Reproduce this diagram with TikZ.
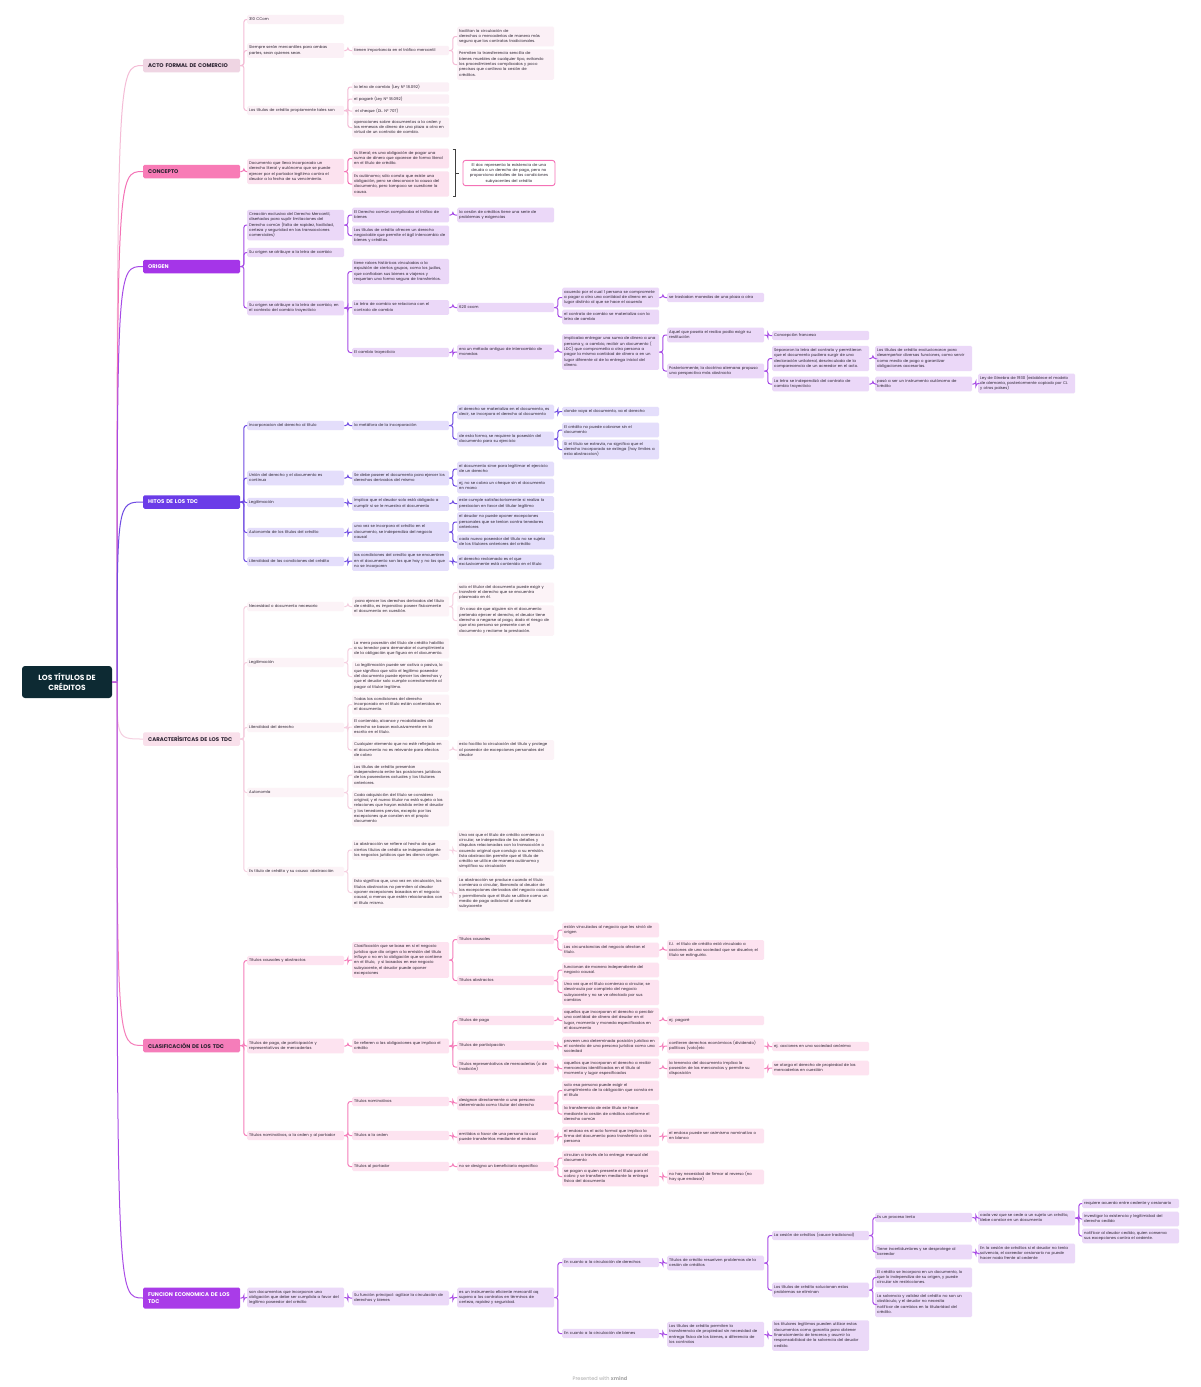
\documentclass[tikz,border=0pt]{standalone}
\usepackage{fontspec}
\setmainfont{Poppins}
\definecolor{rootc}{HTML}{0D2A33}
\definecolor{txt}{HTML}{2A2230}
\definecolor{aH}{HTML}{EFD5E3}\definecolor{aL}{HTML}{F4BCD6}\definecolor{aF}{HTML}{FBF0F6}
\definecolor{cH}{HTML}{F87BB6}\definecolor{cL}{HTML}{F472B6}\definecolor{cF}{HTML}{FCE2EF}
\definecolor{oH}{HTML}{A535E8}\definecolor{oL}{HTML}{A64BE6}\definecolor{oF}{HTML}{EBD8F8}
\definecolor{hH}{HTML}{6B3CE8}\definecolor{hL}{HTML}{6F4BE2}\definecolor{hF}{HTML}{E4DEFB}
\definecolor{kH}{HTML}{F9E0EB}\definecolor{kL}{HTML}{F5CFE0}\definecolor{kF}{HTML}{FCF3F7}
\definecolor{lH}{HTML}{F57DBA}\definecolor{lL}{HTML}{F57DBA}\definecolor{lF}{HTML}{FDE3F0}
\definecolor{fH}{HTML}{A93CE8}\definecolor{fL}{HTML}{A94CE6}\definecolor{fF}{HTML}{EBD9F8}
\colorlet{bf}{aF}\colorlet{bc}{aL}
\newcommand\fs{\fontsize{3.85}{5.3}\selectfont}
\newcommand\hfs{\fontsize{5.4}{6.6}\selectfont\bfseries}
\tikzset{
 box/.style={anchor=west, fill=bf, rounded corners=1.5pt, text width=93pt, inner xsep=2pt, inner ysep=2pt, align=left, font=\fs, text=txt, execute at begin node=\strut, execute at end node=\strut},
 hdr/.style={anchor=west, rounded corners=1.5pt, minimum width=97pt, text width=87pt, inner xsep=5pt, inner ysep=2.5pt, minimum height=13.5pt, align=left, font=\hfs},
 conn/.style={draw=bc, line width=1pt, rounded corners=2.5pt},
 rootl/.style={line width=1pt},
}
\newcommand\bx[4]{\node[box] (#1) at (#2,#3) {#4};}
\newcommand\cn[2]{\draw[conn] (#1.east) -- ++(3.5,0) |- (#2.west);}
\begin{document}
\begin{tikzpicture}[x=1pt,y=-1pt]
\useasboundingbox (0,0) rectangle (1200,1387);
\fill[white] (0,0) rectangle (1200,1387);
% root
\node[fill=rootc, rounded corners=3pt, text=white, minimum width=90pt, minimum height=32pt, align=center, font=\fontsize{7.5}{9.8}\selectfont\bfseries] (root) at (67,682) {LOS TÍTULOS DE\\CRÉDITOS};
\coordinate (rj) at (117,682);
% headers
\node[hdr, fill=aH, text=txt] (acto) at (143,65.5) {ACTO FORMAL DE COMERCIO};
\node[hdr, fill=cH, text=txt] (conc) at (143,171.5) {CONCEPTO};
\node[hdr, fill=oH, text=white] (orig) at (143,266.5) {ORIGEN};
\node[hdr, fill=hH, text=white] (hit) at (143,502) {HITOS DE LOS TDC};
\node[hdr, fill=kH, text=txt] (car) at (143,739) {CARACTERÍSITCAS DE LOS TDC};
\node[hdr, fill=lH, text=txt] (cla) at (143,1045.5) {CLASIFICACIÓN DE LOS TDC};
\node[hdr, fill=fH, text=white, minimum height=21pt] (fun) at (143,1298) {FUNCION ECONOMICA DE LOS\\TDC};
\foreach \h/\c in {acto/aL,conc/cL,orig/oL,hit/hL,car/kL,cla/lL,fun/fL}{
 \draw[rootl, draw=\c] (root.east) -- (rj) .. controls (rj |- \h.west) and (rj |- \h.west) .. (\h.west);
}
% ===== ACTO
\colorlet{bf}{aF}\colorlet{bc}{aL}
\bx{a1}{247}{19.5}{310 CCom}
\bx{a2}{247}{50.5}{Siempre serán mercantiles para ambas\\partes, sean quienes sean.}
\bx{a3}{247}{110.5}{Los títulos de crédito propiamente tales son}
\bx{a2a}{352}{50.5}{tienen importancia en el tráfico mercantil}
\bx{a3a}{352}{87}{la letra de cambio (Ley Nº 18.092)}
\bx{a3b}{352}{99}{el pagaré (Ley Nº 18.092)}
\bx{a3c}{352}{111}{\ el cheque (DL. Nº 707)}
\bx{a3d}{352}{127.5}{operaciones sobre documentos a la orden y\\las remesas de dinero de una plaza a otra en\\virtud de un contrato de cambio.}
\bx{a2a1}{457}{36.5}{facilitan la circulación de\\derechos o mercaderías de manera más\\segura que los contratos tradicionales.}
\bx{a2a2}{457}{64.5}{Permiten la transferencia sencilla de\\bienes muebles de cualquier tipo, evitando\\los procedimientos complicados y poco\\precisos que conlleva la cesión de\\créditos.}
\cn{acto}{a1}\cn{acto}{a2}\cn{acto}{a3}
\cn{a2}{a2a}\cn{a2a}{a2a1}\cn{a2a}{a2a2}
\cn{a3}{a3a}\cn{a3}{a3b}\cn{a3}{a3c}\cn{a3}{a3d}
% ===== CONCEPTO
\colorlet{bf}{cF}\colorlet{bc}{cL}
\bx{c1}{247}{171.5}{Documento que lleva incorporado un\\derecho literal y autónomo que se puede\\ejercer por el portador legítimo contra el\\deudor a la fecha de su vencimiento.}
\bx{c1a}{352}{158.5}{Es literal; es una obligación de pagar una\\suma de dinero que aparece de forma literal\\en el título de crédito.}
\bx{c1b}{352}{184}{Es autónomo; sólo consta que existe una\\obligación, pero se desconoce la causa del\\documento, pero tampoco se cuestione la\\causa.}
\cn{conc}{c1}\cn{c1}{c1a}\cn{c1}{c1b}
\node[box, fill=white, draw=cL, line width=0.9pt, rounded corners=2.5pt, text width=88pt, align=center] (cs) at (462.5,173) {El doc representa la existencia de una\\deuda o un derecho de pago, pero no\\proporciona detalles de las condiciones\\subyacentes del crédito};
\coordinate (bt) at (452.5,149.5);\coordinate (bb) at (452.5,196.5);
\draw[line width=0.9pt, draw=black!75] (bt) -- ++(3,0) |- (bb);
\draw[line width=0.9pt, draw=black!75] (455.5,173) -- (459,173);
% ===== ORIGEN
\colorlet{bf}{oF}\colorlet{bc}{oL}
\bx{o1}{247}{225}{Creación exclusiva del Derecho Mercantil,\\diseñados para suplir limitaciones del\\Derecho común (falta de rapidez, facilidad,\\certeza y seguridad en las transacciones\\comerciales)}
\bx{o2}{247}{252.5}{Su origen se atribuye a la letra de cambio}
\bx{o3}{247}{308}{Su origen se atribuye a la letra de cambio, en\\el contexto del cambio trayecticio}
\bx{o1a}{352}{215}{El Derecho común complicaba el tráfico de\\bienes}
\bx{o1b}{352}{235.5}{Los títulos de crédito ofrecen un derecho\\negociable que permite el ágil intercambio de\\bienes y créditos.}
\bx{o3a}{352}{271.5}{tiene raíces históricas vinculadas a la\\expulsión de ciertos grupos, como los judíos,\\que confiaban sus bienes a viajeros y\\requerían una forma segura de transferirlos.}
\bx{o3b}{352}{307.5}{La letra de cambio se relaciona con el\\contrato de cambio}
\bx{o3c}{352}{352.5}{El cambio trayecticio}
\bx{o1a1}{457}{215}{la cesión de créditos tiene una serie de\\problemas y exigencias}
\bx{o3b1}{457}{307.5}{620 ccom}
\bx{o3c1}{457}{352}{era un método antiguo de intercambio de\\monedas}
\bx{o3b1a}{562}{297.5}{acuerdo por el cual 1 persona se compromete\\a pagar a otra una cantidad de dinero en un\\lugar distinto al que se hace el acuerdo}
\bx{o3b1b}{562}{317}{el contrato de cambio se materializa con la\\letra de cambio}
\bx{o3c1a}{562}{352}{implicaba entregar una suma de dinero a una\\persona y, a cambio, recibir un documento (\\LDC) que comprometía a otra persona a\\pagar la misma cantidad de dinero a en un\\lugar diferente al de la entrega inicial del\\dinero.}
\bx{o5a}{667}{297.5}{se trasladan monedas de una plaza a otra}
\bx{o5b}{667}{335}{Aquel que poseía el recibo podía exigir su\\restitución}
\bx{o5c}{667}{371}{Posteriormente, la doctrina alemana propuso\\una perspectiva más abstracta}
\bx{o6a}{772}{335.5}{Concepción francesa}
\bx{o6b}{772}{358.5}{Separaron la letra del contrato y permitieron\\que el documento pudiera surgir de una\\declaración unilateral, desvinculada de la\\comparecencia de un acreedor en el acto.}
\bx{o6c}{772}{384}{La letra se independizó del contrato de\\cambio trayecticio}
\bx{o7a}{875}{358.5}{Los títulos de crédito evolucionaron para\\desempeñar diversas funciones, como servir\\como medio de pago o garantizar\\obligaciones accesorias.}
\bx{o7b}{875}{384}{pasó a ser un instrumento autónomo de\\crédito}
\bx{o8}{978}{383.5}{Ley de Ginebra de 1930 (establece el modelo\\de alemania, posteriormente copiado por CL\\y otros países)}
\cn{orig}{o1}\cn{orig}{o2}\cn{orig}{o3}
\cn{o1}{o1a}\cn{o1}{o1b}\cn{o1a}{o1a1}
\cn{o3}{o3a}\cn{o3}{o3b}\cn{o3}{o3c}
\cn{o3b}{o3b1}\cn{o3b1}{o3b1a}\cn{o3b1}{o3b1b}\cn{o3b1a}{o5a}
\cn{o3c}{o3c1}\cn{o3c1}{o3c1a}\cn{o3c1a}{o5b}\cn{o3c1a}{o5c}
\cn{o5b}{o6a}\cn{o5c}{o6b}\cn{o5c}{o6c}\cn{o6b}{o7a}\cn{o6c}{o7b}\cn{o7b}{o8}
% ===== HITOS
\colorlet{bf}{hF}\colorlet{bc}{hL}
\bx{h1}{247}{425.5}{Incorporacion del derecho al título}
\bx{h2}{247}{478}{Unión del derecho y el documento es\\continua}
\bx{h3}{247}{502.5}{Legitimación}
\bx{h4}{247}{532.5}{Autonomía de los títulos del crédito}
\bx{h5}{247}{561.5}{Literalidad de las condiciones del crédito}
\bx{h1a}{352}{425.5}{la metáfora de la incorporación}
\bx{h2a}{352}{478}{Se debe poseer el documento para ejercer los\\derechos derivados del mismo}
\bx{h3a}{352}{503.5}{Implica que el deudor solo está obligado a\\cumplir si se le muestra el documento}
\bx{h4a}{352}{532}{una vez se incorpora el crédito en el\\documento, se independiza del negocio\\causal}
\bx{h5a}{352}{561}{las condiciones del credito que se encuentren\\en el documento son las que hay y no las que\\no se incorporen}
\bx{h1a1}{457}{412}{el derecho se materializa en el documento, es\\decir, se incorpora el derecho al documento}
\bx{h1a2}{457}{439}{de esta forma, se requiere la posesión del\\documento para su ejercicio}
\bx{h2a1}{457}{469}{el documento sirve para legitimar el ejercicio\\de un derecho}
\bx{h2a2}{457}{486}{ej, no se cobra un cheque sin el documento\\en mano}
\bx{h3a1}{457}{503.5}{este cumple satisfactoriamente si realiza la\\prestacion en favor del titular legítimo}
\bx{h4a1}{457}{522}{el deudor no puede oponer excepciones\\personales que se tenían contra tenedores\\anteriores}
\bx{h4a2}{457}{542}{cada nuevo poseedor del título no se sujeta\\de los titulares anteriores del crédito}
\bx{h5a1}{457}{562}{el derecho reclamado es el que\\exclusivamente está contenido en el título}
\bx{h1a1a}{562}{411.5}{donde vaya el documento, va el derecho}
\bx{h1a2a}{562}{430}{El crédito no puede cobrarse sin el\\documento}
\bx{h1a2b}{562}{449.5}{Si el título se extravía, no significa que el\\derecho incorporado se extinga (hay límites a\\esta abstraccion)}
\cn{hit}{h1}\cn{hit}{h2}\cn{hit}{h3}\cn{hit}{h4}\cn{hit}{h5}
\cn{h1}{h1a}\cn{h2}{h2a}\cn{h3}{h3a}\cn{h4}{h4a}\cn{h5}{h5a}
\cn{h1a}{h1a1}\cn{h1a}{h1a2}\cn{h2a}{h2a1}\cn{h2a}{h2a2}\cn{h3a}{h3a1}
\cn{h4a}{h4a1}\cn{h4a}{h4a2}\cn{h5a}{h5a1}
\cn{h1a1}{h1a1a}\cn{h1a2}{h1a2a}\cn{h1a2}{h1a2b}
% ===== CARACTERISTICAS
\colorlet{bf}{kF}\colorlet{bc}{kL}
\bx{k1}{247}{606.5}{Necesidad o documento necesario}
\bx{k2}{247}{662.5}{Legitimación}
\bx{k3}{247}{727.5}{Literalidad del derecho}
\bx{k4}{247}{792.5}{Autonomía}
\bx{k5}{247}{871.5}{Es título de crédito y su causa: abstracción}
\bx{k1a}{352}{606.5}{\ para ejercer los derechos derivados del título\\de crédito, es imperativo poseer físicamente\\el documento en cuestión.}
\bx{k2a}{352}{648.5}{La mera posesión del título de crédito habilita\\a su tenedor para demandar el cumplimiento\\de la obligación que figura en el documento.}
\bx{k2b}{352}{676.5}{\ La legitimación puede ser activa o pasiva, lo\\que significa que sólo el legítimo poseedor\\del documento puede ejercer los derechos y\\que el deudor solo cumple correctamente al\\pagar al titular legítimo.}
\bx{k3a}{352}{704.5}{Todas las condiciones del derecho\\incorporado en el título están contenidas en\\el documento.}
\bx{k3b}{352}{727}{El contenido, alcance y modalidades del\\derecho se basan exclusivamente en lo\\escrito en el título.}
\bx{k3c}{352}{750}{Cualquier elemento que no esté reflejado en\\el documento no es relevante para efectos\\de cobro}
\bx{k4a}{352}{775}{Los títulos de crédito presentan\\independencia entre las posiciones jurídicas\\de los poseedores actuales y los titulares\\anteriores.}
\bx{k4b}{352}{808.5}{Cada adquisición del título se considera\\original, y el nuevo titular no está sujeto a las\\relaciones que hayan existido entre el deudor\\y los tenedores previos, excepto por las\\excepciones que consten en el propio\\documento}
\bx{k5a}{352}{850}{La abstracción se refiere al hecho de que\\ciertos títulos de crédito se independizan de\\los negocios jurídicos que les dieron origen.}
\bx{k5b}{352}{892.5}{Esto significa que, una vez en circulación, los\\títulos abstractos no permiten al deudor\\oponer excepciones basadas en el negocio\\causal, a menos que estén relacionadas con\\el título mismo.}
\bx{k1a1}{457}{592.5}{solo el titular del documento puede exigir y\\transferir el derecho que se encuentra\\plasmado en él.}
\bx{k1a2}{457}{620.5}{\ En caso de que alguien sin el documento\\pretenda ejercer el derecho, el deudor tiene\\derecho a negarse al pago, dado el riesgo de\\que otra persona se presente con el\\documento y reclame la prestación.}
\bx{k3c1}{457}{750}{esto facilita la circulación del título y protege\\al poseedor de excepciones personales del\\deudor}
\bx{k5a1}{457}{851}{Una vez que el título de crédito comienza a\\circular, se independiza de los detalles y\\disputas relacionadas con la transacción o\\acuerdo original que condujo a su emisión.\\Esta abstracción permite que el título de\\crédito se utilice de manera autónoma y\\simplifica su circulación}
\bx{k5b1}{457}{893.5}{La abstracción se produce cuando el título\\comienza a circular, liberando al deudor de\\las excepciones derivadas del negocio causal\\y permitiendo que el título se utilice como un\\medio de pago adicional al contrato\\subyacente}
\cn{car}{k1}\cn{car}{k2}\cn{car}{k3}\cn{car}{k4}\cn{car}{k5}
\cn{k1}{k1a}\cn{k2}{k2a}\cn{k2}{k2b}\cn{k3}{k3a}\cn{k3}{k3b}\cn{k3}{k3c}
\cn{k4}{k4a}\cn{k4}{k4b}\cn{k5}{k5a}\cn{k5}{k5b}
\cn{k1a}{k1a1}\cn{k1a}{k1a2}\cn{k3c}{k3c1}\cn{k5a}{k5a1}\cn{k5b}{k5b1}
% ===== CLASIFICACION
\colorlet{bf}{lF}\colorlet{bc}{lL}
\bx{l1}{247}{960.5}{Títulos causales y abstractos}
\bx{l2}{247}{1046}{Títulos de pago, de participación y\\representativos de mercaderías}
\bx{l3}{247}{1135.5}{Títulos nominativos, a la orden y al portador}
\bx{l1a}{352}{960}{Clasificación que se basa en si el negocio\\jurídico que dio origen a la emisión del título\\influye o no en la obligación que se contiene\\en el título,\ \ y si basados en ese negocio\\subyacente, el deudor puede oponer\\excepciones}
\bx{l2a}{352}{1046}{Se refieren a las obligaciones que implica el\\crédito}
\bx{l3a}{352}{1101.5}{Títulos nominativos}
\bx{l3b}{352}{1135.5}{Títulos a la orden}
\bx{l3c}{352}{1166.5}{Títulos al portador}
\bx{l1a1}{457}{939.5}{Títulos causales}
\bx{l1a2}{457}{980.5}{Títulos abstractos}
\bx{l2a1}{457}{1020.5}{Títulos de pago}
\bx{l2a2}{457}{1045.5}{Títulos de participación}
\bx{l2a3}{457}{1067}{Títulos representativos de mercaderías (o de\\tradición)}
\bx{l3a1}{457}{1103}{designan directamente a una persona\\determinada como titular del derecho}
\bx{l3b1}{457}{1137}{emitidos a favor de una persona la cual\\puede transferirlos mediante el endoso}
\bx{l3c1}{457}{1166.5}{no se designa un beneficiario específico}
\bx{m1}{562}{930}{están vinculados al negocio que les sirvió de\\origen}
\bx{m2}{562}{950}{Las circunstancias del negocio afectan el\\título.}
\bx{m3}{562}{970}{funcionan de manera independiente del\\negocio causal.}
\bx{m4}{562}{992.5}{Una vez que el título comienza a circular, se\\desvincula por completo del negocio\\subyacente y no se ve afectado por sus\\cambios}
\bx{m5}{562}{1020.5}{aquellos que incorporan el derecho a percibir\\una cantidad de dinero del deudor en el\\lugar, momento y moneda especificados en\\el documento}
\bx{m6}{562}{1046.5}{proveen una determinada posición jurídica en\\el contexto de una persona jurídica como una\\sociedad}
\bx{m7}{562}{1068.5}{aquellos que incorporan el derecho a recibir\\mercancías identificadas en el título al\\momento y lugar especificados}
\bx{m8}{562}{1090.5}{solo esa persona puede exigir el\\cumplimiento de la obligación que consta en\\el título}
\bx{m9}{562}{1114}{la transferencia de este título se hace\\mediante la cesión de créditos conforme el\\derecho común}
\bx{m10}{562}{1136.5}{el endoso es el acto formal que implica la\\firma del documento para transferirlo a otra\\persona}
\bx{m11}{562}{1158}{circulan a través de la entrega manual del\\documento}
\bx{m12}{562}{1176.5}{se pagan a quien presente el título para el\\cobro y se transfieren mediante la entrega\\física del documento}
\bx{n1}{667}{950}{EJ.\ \ el título de crédito está vinculado a\\acciones de una sociedad que se disuelve, el\\título se extinguiría.}
\bx{n2}{667}{1020.5}{ej. pagaré}
\bx{n3}{667}{1046}{confieren derechos económicos (dividendo)\\políticos (voto)etc}
\bx{n4}{667}{1068.5}{la tenencia del documento implica la\\posesión de las mercancías y permite su\\disposición}
\bx{n5}{667}{1136}{el endoso puede ser asimismo nominativo o\\en blanco}
\bx{n6}{667}{1177}{no hay necesidad de firmar al reverso (no\\hay que endosar)}
\bx{p1}{772}{1046.5}{ej. acciones en una sociedad anónima}
\bx{p2}{772}{1068}{se otorga el derecho de propiedad de las\\mercaderías en cuestión}
\cn{cla}{l1}\cn{cla}{l2}\cn{cla}{l3}
\cn{l1}{l1a}\cn{l2}{l2a}\cn{l3}{l3a}\cn{l3}{l3b}\cn{l3}{l3c}
\cn{l1a}{l1a1}\cn{l1a}{l1a2}\cn{l2a}{l2a1}\cn{l2a}{l2a2}\cn{l2a}{l2a3}
\cn{l3a}{l3a1}\cn{l3b}{l3b1}\cn{l3c}{l3c1}
\cn{l1a1}{m1}\cn{l1a1}{m2}\cn{l1a2}{m3}\cn{l1a2}{m4}
\cn{l2a1}{m5}\cn{l2a2}{m6}\cn{l2a3}{m7}
\cn{l3a1}{m8}\cn{l3a1}{m9}\cn{l3b1}{m10}\cn{l3c1}{m11}\cn{l3c1}{m12}
\cn{m2}{n1}\cn{m5}{n2}\cn{m6}{n3}\cn{m7}{n4}\cn{m10}{n5}\cn{m12}{n6}
\cn{n3}{p1}\cn{n4}{p2}
% ===== FUNCION
\colorlet{bf}{fF}\colorlet{bc}{fL}
\bx{f1}{247}{1297.5}{son documentos que incorporan una\\obligación que debe ser cumplida a favor del\\legítimo poseedor del crédito}
\bx{f2}{352}{1298}{Su función principal: agilizar la circulación de\\derechos y bienes}
\bx{f3}{457}{1297.5}{es un instrumento eficiente mercantil aq\\supera a los contratos en términos de\\certeza, rapidez y seguridad.}
\bx{f4a}{562}{1262.5}{En cuanto a la circulación de derechos}
\bx{f4b}{562}{1333.5}{En cuanto a la circulación de bienes}
\bx{f5a}{667}{1263}{Títulos de crédito resuelven problemas de la\\cesión de créditos}
\bx{f5b}{667}{1334.5}{Los títulos de crédito permiten la\\transferencia de propiedad sin necesidad de\\entrega física de los bienes, a diferencia de\\los contratos}
\bx{f6a}{772}{1235.5}{La cesión de créditos (cauce tradicional)}
\bx{f6b}{772}{1290}{Los títulos de crédito solucionan estos\\problemas se eliminan}
\bx{f6c}{772}{1335.5}{los titulares legítimos pueden utilizar estos\\documentos como garantía para obtener\\financiamiento de terceros y asumir la\\responsabilidad de la solvencia del deudor\\cedido.}
\bx{f7a}{875}{1217.5}{Es un proceso lento}
\bx{f7b}{875}{1252}{Tiene incertidumbres y se desprotege al\\acreedor}
\bx{f7c}{875}{1277.5}{El crédito se incorpora en un documento, lo\\que lo independiza de su origen, y puede\\circular sin restricciones.}
\bx{f7d}{875}{1304.5}{La solvencia y validez del crédito no son un\\obstáculo, y el deudor no necesita\\notificar de cambios en la titularidad del\\crédito.}
\bx{f8a}{978}{1218}{cada vez que se cede a un sujeto un crédito,\\debe constar en un documento}
\bx{f8b}{978}{1253.5}{En la cesión de créditos si el deudor no tenía\\solvencia, el acreedor cesionario no puede\\hacer nada frente al cedente}
\bx{f9a}{1082}{1203.5}{requiere acuerdo entre cedente y cesionario}
\bx{f9b}{1082}{1219}{investigar la existencia y legitimidad del\\derecho cedido}
\bx{f9c}{1082}{1236}{notificar al deudor cedido, quien conserva\\sus excepciones contra el cedente.}
\cn{fun}{f1}\cn{f1}{f2}\cn{f2}{f3}\cn{f3}{f4a}\cn{f3}{f4b}
\cn{f4a}{f5a}\cn{f4b}{f5b}\cn{f5a}{f6a}\cn{f5a}{f6b}\cn{f5b}{f6c}
\cn{f6a}{f7a}\cn{f6a}{f7b}\cn{f6b}{f7c}\cn{f6b}{f7d}
\cn{f7a}{f8a}\cn{f7b}{f8b}\cn{f8a}{f9a}\cn{f8a}{f9b}\cn{f8a}{f9c}
% footer
\node[text=black!35, font=\fontsize{5}{6}\selectfont] (ft) at (600,1379) {Presented with \textbf{xmind}};
\end{tikzpicture}
\end{document}
